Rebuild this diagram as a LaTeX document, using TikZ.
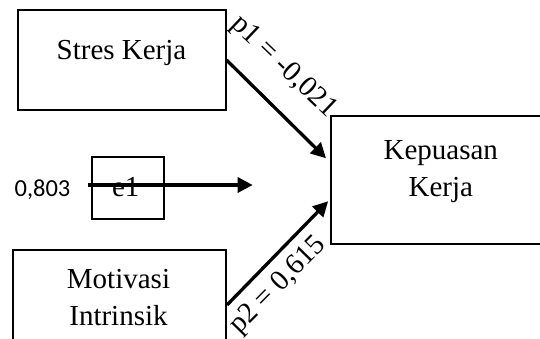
\documentclass[tikz,border=0pt]{standalone}
\usepackage{fontspec}
\setmainfont{Liberation Serif}
\newfontfamily\numfont{Carlito}
\usetikzlibrary{arrows.meta,calc}

\begin{document}
\begin{tikzpicture}[x=0.5pt,y=-0.5pt,
    every node/.style={font=\fontsize{14.5}{18.25}\selectfont},
    var/.style={draw,line width=1pt,inner sep=0pt},
    txt/.style={inner sep=0pt,align=center},
    path/.style={line width=1.65pt,-{Triangle[length=7.5pt,width=7.5pt]}}]
    \useasboundingbox (0,0) rectangle (540,338);
    \clip (0,0) rectangle (540,338);
    % boxes
    \node[var,minimum width=103.75pt,minimum height=50pt] (stres) at (121.75,60) {};
    \node[var,minimum width=110.2pt,minimum height=64.25pt] (kep) at (440.8,179.75) {};
    \node[var,minimum width=36.15pt,minimum height=31pt] (e1) at (127.8,188.3) {};
    \node[var,minimum width=106.65pt,minimum height=55.5pt] (mot) at (119.35,305) {};
    % texts
    \node[txt,anchor=base] (stres-txt) at (121.5,59.3) {Stres Kerja};
    \node[txt] (kep-txt) at (440.8,171.8) {Kepuasan\\Kerja};
    \node[txt] (mot-txt) at (118.5,297.6) {Motivasi\\Intrinsik};
    \node[txt,anchor=base] (e1-txt) at (125.8,196.5) {e1};
    \node[txt,anchor=base,font=\numfont\fontsize{12.25}{14}\selectfont] (res) at (42.5,196.7) {0,803};
    % paths
    \coordinate (e-in) at (88.3,185);
    \coordinate (e-out) at (252.7,185);
    \draw[path] (stres.east) -- ($(kep.west)+(-3.6,-21.5)$);
    \draw[path] (mot.east) -- ($(kep.west)+(-1.5,21.5)$);
    \draw[path] (e-in) -- (e-out);
    \node[rotate=-43.6] (p1) at (283.5,67.5) {p1 = -0,021};
    \node[rotate=45.4] (p2) at (278.3,285.8) {p2 = 0,615};
\end{tikzpicture}
\end{document}
